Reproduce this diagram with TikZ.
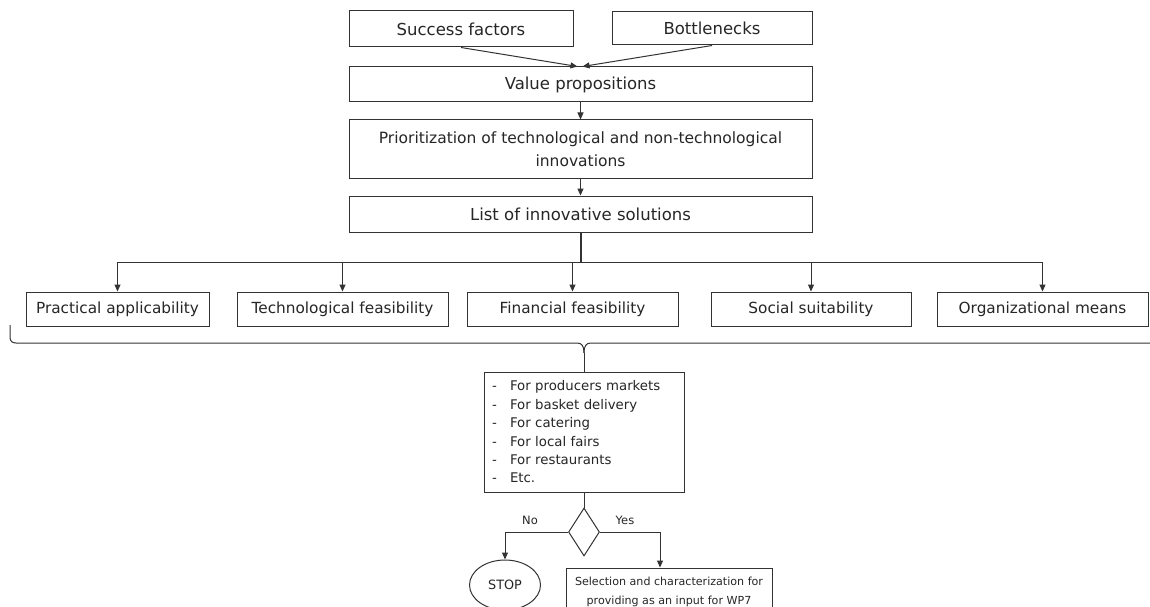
\documentclass[tikz,border=0pt]{standalone}
\usepackage{fontspec}
\setmainfont{DejaVu Sans}
\usetikzlibrary{arrows.meta,shapes.geometric}

\tikzset{
  box/.style={draw=black!80, line width=1pt, rectangle, inner sep=0pt,
              text=black!85, align=center},
  big/.style={font=\fontsize{16.5}{20}\selectfont},
  mid/.style={font=\fontsize{15.3}{20}\selectfont},
  arr/.style={draw=black!80, line width=1pt, -{Triangle[length=7pt,width=6pt]}},
  link/.style={draw=black!80, line width=1pt},
  lbl/.style={text=black!85, font=\fontsize{11.5}{14}\selectfont, inner sep=0pt}
}

\begin{document}
\begin{tikzpicture}[x=1pt, y=-1pt]
\useasboundingbox[fill=white] (0,0) rectangle (1150,607);

% upper chain
\node[box, big, minimum width=224pt, minimum height=36pt] (sf) at (461,29) {Success factors};
\node[box, big, minimum width=200pt, minimum height=33pt] (bn) at (712,28.5) {Bottlenecks};
\node[box, big, minimum width=463pt, minimum height=35pt] (vp) at (580.5,84.5) {Value propositions};
\node[box, font=\fontsize{15.5}{23}\selectfont, minimum width=463pt, minimum height=58pt] (pr) at (580.5,149)
  {Prioritization of technological and non-technological\\innovations};
\node[box, big, minimum width=463pt, minimum height=36pt] (ls) at (580.5,214) {List of innovative solutions};

\draw[arr] (sf.south) -- ([xshift=-3pt]vp.north);
\draw[arr] (bn.south) -- ([xshift=2pt]vp.north);
\draw[arr] (vp.south) -- (pr.north);
\draw[arr] (pr.south) -- (ls.north);

% criteria
\node[box, mid, minimum width=183pt, minimum height=34pt] (pa) at (117.5,309) {Practical applicability};
\node[box, mid, minimum width=211pt, minimum height=34pt] (tf) at (342.5,309) {Technological feasibility};
\node[box, mid, minimum width=211pt, minimum height=34pt] (ff) at (572.5,309) {Financial feasibility};
\node[box, mid, minimum width=200pt, minimum height=34pt] (ss) at (811,309) {Social suitability};
\node[box, mid, minimum width=211pt, minimum height=34pt] (om) at (1042.5,309) {Organizational means};

\coordinate (hub) at (580.5,262);
\draw[link, line width=2pt] (ls.south) -- (hub);
\draw[link] (pa.north |- hub) -- (om.north |- hub);
\foreach \n in {pa,tf,ff,ss,om}
  \draw[arr] (\n.north |- hub) -- (\n.north);

% brace gathering the criteria
\node[box, font=\fontsize{13.3}{18.4}\selectfont, minimum width=200pt, minimum height=120pt,
      text width=184pt, align=left] (lb) at (584,432)
  {\makebox[18pt][l]{-}For producers markets\\
   \makebox[18pt][l]{-}For basket delivery\\
   \makebox[18pt][l]{-}For catering\\
   \makebox[18pt][l]{-}For local fairs\\
   \makebox[18pt][l]{-}For restaurants\\
   \makebox[18pt][l]{-}Etc.};

\coordinate (brL) at (10,325);
\coordinate (brR) at (1160,325);
\coordinate (brT) at (584,353);
\draw[link] (brL) -- (10,337) .. controls (10,341) and (12,343) .. (16,343)
  -- (577,343) .. controls (582,343) and (584,346) .. (brT);
\draw[link] (brR) -- (1160,337) .. controls (1160,341) and (1158,343) .. (1154,343)
  -- (591,343) .. controls (586,343) and (584,346) .. (brT);
\draw[link] (brT) -- (lb.north);

% decision
\node[draw=black!80, line width=1pt, diamond, shape aspect=1, inner sep=0pt,
      minimum width=31pt, minimum height=48pt] (dc) at (584,532) {};
\draw[link] (lb.south) -- (dc.north);

\node[draw=black!80, line width=1pt, ellipse, inner sep=0pt, minimum width=71pt, minimum height=50pt,
      text=black!85, font=\fontsize{12.8}{15}\selectfont] (st) at (505,585) {STOP};
\node[box, font=\fontsize{11.1}{19}\selectfont, minimum width=206pt, minimum height=47pt] (sel) at (669,591.5)
  {Selection and characterization for\\providing as an input for WP7};

\draw[arr] (dc.west) -| (st.north);
\draw[arr] (dc.east) -| ([xshift=-9pt]sel.north);

\node[lbl] at (530,520) {No};
\node[lbl] at (625,520) {Yes};
\end{tikzpicture}
\end{document}
